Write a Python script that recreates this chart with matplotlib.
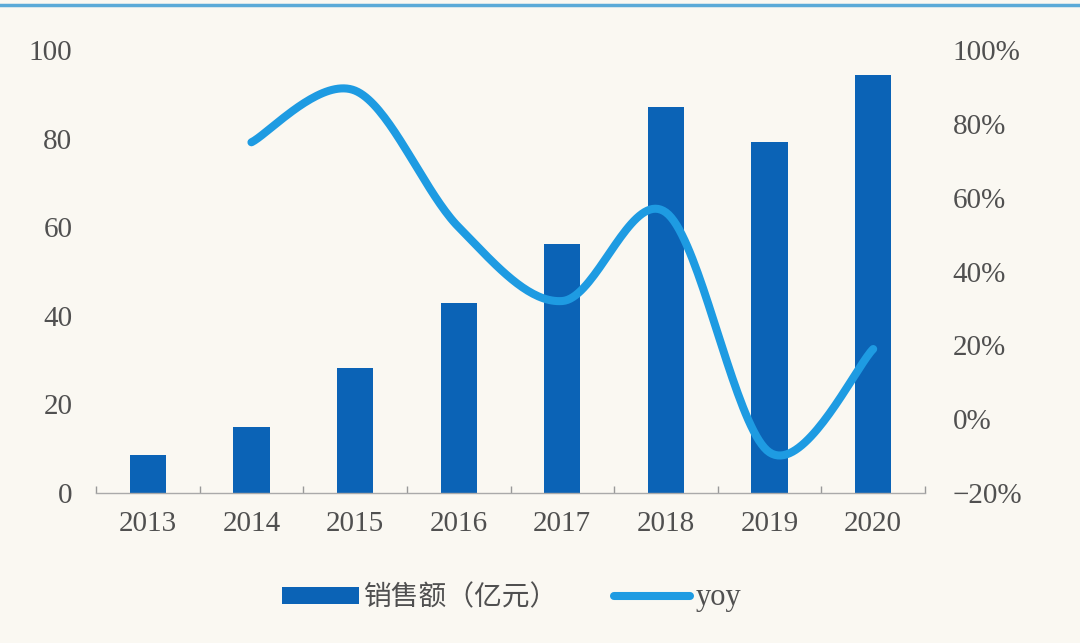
import numpy as np
import matplotlib
matplotlib.use("Agg")
import matplotlib.pyplot as plt
from matplotlib.lines import Line2D
from matplotlib.patches import Patch

years = ["2013", "2014", "2015", "2016", "2017", "2018", "2019", "2020"]
sales = [8.6, 14.9, 28.2, 42.9, 56.2, 87.1, 79.2, 94.4]
yoy = [None, 75, 89, 52, 32, 56, -9, 19]
left_ticks = [0, 20, 40, 60, 80, 100]
right_ticks = [-20, 0, 20, 40, 60, 80, 100]
legend_labels = ["销售额（亿元）", "yoy"]

BG = "#FAF8F2"
BAR = "#0B63B6"
LINE = "#1E9BE2"
TXT = "#505050"
serif = ["Liberation Serif", "DejaVu Serif"]

fig = plt.figure(figsize=(10.8, 6.43), dpi=100, facecolor=BG)
ax = fig.add_axes([96/1080, 1-493/643, (925-96)/1080, (493-50)/643])
ax.set_facecolor(BG)
x = np.arange(len(years))
ax.bar(x, sales, width=0.35, color=BAR, zorder=2)
ax.set_xlim(-0.5, len(years)-0.5)
ax.set_ylim(0, 100)
ax.set_yticks(left_ticks)
ax.set_yticklabels([str(t) for t in left_ticks], fontfamily=serif, fontsize=21, color=TXT)
ax.tick_params(axis="y", length=0, pad=17)
ax.set_xticks(x)
ax.set_xticklabels(years, fontfamily=serif, fontsize=21, color=TXT)
ax.tick_params(axis="x", which="major", length=0, pad=13)
ax.set_xticks(np.arange(-0.5, len(years)), minor=True)
ax.tick_params(axis="x", which="minor", direction="in", length=5, color="#999999", width=1)
for s in ["top", "right", "left"]:
    ax.spines[s].set_visible(False)
ax.spines["bottom"].set_color("#AAAAAA")
ax.spines["bottom"].set_linewidth(1)

ax2 = ax.twinx()
ax2.set_ylim(-20, 100)
ax2.set_yticks(right_ticks)
ax2.set_yticklabels([("\u221220" if t < 0 else str(t)) + "%" for t in right_ticks],
                    fontfamily=serif, fontsize=21, color=TXT, ha="left")
ax2.tick_params(axis="y", length=0, pad=20)
for s in ax2.spines.values():
    s.set_visible(False)

# smoothed line (Excel-style Bezier through points)
px = np.array([i for i, v in enumerate(yoy) if v is not None], dtype=float)
py = np.array([v for v in yoy if v is not None], dtype=float)
P = np.column_stack([px, py])
n = len(P)
ext = np.vstack([P[0], P, P[-1]])
curve = []
t = np.linspace(0, 1, 40)[:, None]
for i in range(n-1):
    p0, p1 = P[i], P[i+1]
    c1 = p0 + (ext[i+2] - ext[i]) / 6.0
    c2 = p1 - (ext[i+3] - ext[i+1]) / 6.0
    seg = (1-t)**3*p0 + 3*(1-t)**2*t*c1 + 3*(1-t)*t**2*c2 + t**3*p1
    curve.append(seg)
curve = np.vstack(curve)
ax2.plot(curve[:, 0], curve[:, 1], color=LINE, lw=5.8, solid_capstyle="round", zorder=3)

# top blue rule
fig.add_artist(Line2D([0, 1], [1-5/643, 1-5/643], transform=fig.transFigure, color="#5BAAD8", lw=2.5))

handles = [Patch(facecolor=BAR, edgecolor="none"),
           Line2D([], [], color=LINE, lw=5.8, solid_capstyle="round")]
leg = fig.legend(handles, legend_labels, loc="center", bbox_to_anchor=(512/1080, 1-597/643),
                 ncol=2, frameon=False, handlelength=2.75, handleheight=0.55,
                 handletextpad=0.2, columnspacing=2.0,
                 prop={"family": ["Noto Sans CJK SC", "Liberation Serif"], "size": 20})
texts = leg.get_texts()
texts[0].set_color(TXT)
texts[0].set_fontweight("light")
texts[1].set_color(TXT)
texts[1].set_fontfamily(serif)
texts[1].set_fontsize(22)

fig.savefig("out.png", dpi=100, facecolor=BG)
